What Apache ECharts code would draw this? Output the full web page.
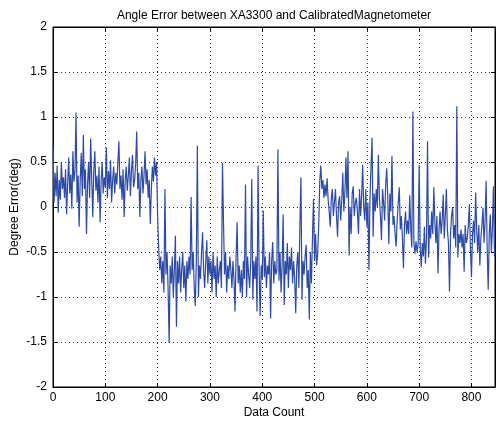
<!DOCTYPE html>
<html>
<head>
<meta charset="utf-8">
<script src="https://cdn.jsdelivr.net/npm/echarts@6/dist/echarts.min.js"></script>
<style>
  html, body { margin: 0; padding: 0; background: #fff; }
  #chart { width: 496px; height: 421px; }
</style>
</head>
<body>
<div id="chart"></div>
<script>
const countStep = 2;
const angleError = [
  0.69, 0.05, 0.38, 0.12, 0.46, -0.06, 0.3, 0.08, 0.5, 0.2,
  0.33, 0.1, 0.42, -0.08, 0.25, 0.55, 0.15, 0.36, -0.02, 0.62,
  0.28, 0.4, 1.05, 0.05, 0.35, -0.22, 0.3, 0.6, 0.12, 0.8,
  0.2, 0.42, -0.3, 0.25, 0.5, 0.1, 0.76, 0.32, -0.11, 0.4,
  0.62, 0.18, 0.35, 0.05, 0.45, -0.17, 0.28, 0.5, 0.15, 0.33,
  0.22, 0.66, 0.1, 0.4, 0.2, 0.52, 0.05, 0.3, 0.45, 0.15,
  0.38, 0.25, 0.5, 0.73, 0.2, 0.35, 0.08, 0.42, -0.11, 0.3,
  0.45, 0.18, 0.35, 0.55, 0.12, 0.4, 0.58, 0.22, 0.3, 0.48,
  0.84, 0.2, 0.38, -0.11, 0.3, 0.45, 0.15, 0.35, 0.62, 0.25,
  0.42, 0.1, 0.3, -0.19, 0.2, 0.45, 0.28, 0.55, 0.35, 0.5,
  -0.1, -0.45, -0.7, -0.55, -0.85, -0.6, -0.95, 0.2, -0.75, -0.5,
  -0.9, -1.51, -0.65, -0.85, -0.55, -1.0, -0.7, -0.32, -1.33, -0.6,
  -0.85, -0.55, -0.95, -0.7, -0.5, -0.9, -0.65, -1.05, -0.6, -0.8,
  -0.55, -0.75, 0.11, -0.7, -0.5, -0.9, -1.1, -0.6, 0.68, -1.0,
  -0.65, -0.8, -0.5, -0.28, -0.72, -0.9, -0.6, -0.37, -0.85, -0.55,
  -0.75, -0.6, -0.95, -0.5, -0.8, -0.65, -1.0, -0.55, -0.85, -0.7,
  -0.6, -0.9, 0.49, -0.19, -0.75, -0.5, -0.95, -0.65, -0.8, -0.55,
  -0.7, -0.9, -0.6, -0.8, -1.16, -0.55, -0.17, -0.85, -0.65, -0.95,
  -0.7, -1.0, -0.6, -0.8, 0.25, -1.0, -0.55, -0.75, -0.9, -0.6,
  0.31, -1.03, -0.6, -0.8, -0.55, -1.16, 0.46, -0.7, -1.21, -0.65,
  -0.8, -0.04, -0.78, -0.55, -0.9, -0.65, -0.75, -0.5, -1.24, -0.6,
  -0.39, -0.85, -0.6, -0.75, -0.7, 0.64, -0.82, -0.5, -0.95, -0.65,
  -0.08, -1.09, -0.6, -0.75, -0.4, -0.9, -0.55, -0.7, -0.45, -0.85,
  -0.6, -0.8, -1.18, -0.65, -0.5, -0.9, -0.2, 0.33, -1.03, -0.6,
  -0.75, -0.55, -0.42, -0.9, -0.7, -1.25, -0.5, -0.85, -0.35, 0.09,
  -0.6, -0.3, -0.65, -0.52, -0.2, 0.29, 0.46, 0.2, 0.3, 0.1,
  0.25, 0.12, 0.32, 0.08, -0.05, -0.22, 0.1, 0.2, -0.1, 0.05,
  0.2, -0.1, -0.33, 0.05, 0.12, -0.15, 0.08, 0.38, -0.05, 0.15,
  0.55, 0.1, 0.62, -0.54, 0.0, -0.3, 0.15, 0.23, -0.1, 0.05,
  0.1, -0.05, -0.3, 0.2, -0.1, 0.12, 0.47, 0.0, -0.15, 0.2,
  -0.22, 0.05, -0.7, 0.1, 0.46, 0.77, -0.33, 0.15, -0.05, 0.2,
  0.0, 0.58, 0.1, -0.1, -0.37, 0.2, 0.05, -0.15, 0.25, 0.43,
  0.1, -0.41, 0.15, -0.05, 0.57, -0.2, -0.1, -0.3, -0.44, -0.15,
  0.05, 0.22, -0.25, -0.1, -0.35, -0.68, -0.2, -0.05, -0.3, -0.15,
  -0.3, 0.13, -0.25, -0.45, 1.06, -0.4, -0.52, -0.38, -0.5, -0.42,
  0.47, -0.45, -0.67, -0.4, -0.55, -0.22, -0.63, -0.35, 0.73, -0.56,
  -0.2, -0.35, -0.05, -0.3, 0.22, -0.15, -0.4, -0.1, -0.74, -0.25,
  -0.05, -0.3, -0.15, 0.14, -0.35, -0.1, 0.2, -0.25, -0.4, -0.94,
  -0.3, -0.1, 0.0, -0.35, -0.2, -0.45, 1.12, -0.56, -0.3, -0.4,
  -0.25, -0.45, -0.3, -0.72, -0.2, -0.4, -0.35, -0.2, 0.03, -0.45,
  -0.78, -0.3, -0.15, -0.4, 0.16, -0.25, -0.5, -0.2, -0.65, -0.35,
  -0.2, -0.01, -0.4, -0.15, 0.29, -0.45, -0.92, -0.3, -0.08, -0.5,
  -0.25, 0.23, -0.55
];
const xTicks = [0, 100, 200, 300, 400, 500, 600, 700, 800];
const yTicks = [-2, -1.5, -1, -0.5, 0, 0.5, 1, 1.5, 2];

const chart = echarts.init(document.getElementById('chart'));

const font = 'Liberation Sans, Arial, sans-serif';
const seriesData = angleError.map((v, i) => [i * countStep, v]);

const gridLine = { show: true, lineStyle: { color: '#333', type: [1, 3], width: 1 } };
const boxTick = { show: true, inside: true, length: 4, lineStyle: { color: '#000' } };

const option = {
  animation: false,
  backgroundColor: '#fff',
  title: {
    text: 'Angle Error between XA3300 and CalibratedMagnetometer',
    left: 269,
    top: 5,
    textAlign: 'center',
    textStyle: { fontFamily: font, fontSize: 12, fontWeight: 'normal', color: '#000' }
  },
  grid: {
    left: 53, top: 27, right: 1, bottom: 34,
    show: true, borderColor: '#000', borderWidth: 1,
    containLabel: false, outerBoundsMode: 'none'
  },
  xAxis: [{
    type: 'value',
    min: 0,
    max: 845,
    interval: 100,
    name: 'Data Count',
    nameLocation: 'middle',
    nameGap: 20,
    nameMoveOverlap: false,
    nameTextStyle: { fontFamily: font, fontSize: 12, color: '#000' },
    axisLine: { show: true, onZero: false, lineStyle: { color: '#000' } },
    axisTick: boxTick,
    axisLabel: {
      fontFamily: font, fontSize: 12, color: '#000', margin: 5,
      formatter: v => xTicks.includes(v) ? String(v) : ''
    },
    splitLine: gridLine
  }, {
    type: 'value', position: 'top', min: 0, max: 845, interval: 100,
    axisLine: { show: true, onZero: false, lineStyle: { color: '#000' } },
    axisTick: boxTick,
    axisLabel: { show: false },
    splitLine: { show: false }
  }],
  yAxis: [{
    type: 'value',
    min: -2,
    max: 2,
    interval: 0.5,
    name: 'Degree Error(deg)',
    nameLocation: 'middle',
    nameGap: 32,
    nameMoveOverlap: false,
    nameRotate: 90,
    nameTextStyle: { fontFamily: font, fontSize: 12, color: '#000' },
    axisLine: { show: true, onZero: false, lineStyle: { color: '#000' } },
    axisTick: boxTick,
    axisLabel: {
      fontFamily: font, fontSize: 12, color: '#000', margin: 6,
      formatter: v => yTicks.includes(v) ? String(v) : ''
    },
    splitLine: gridLine
  }, {
    type: 'value', position: 'right', min: -2, max: 2, interval: 0.5,
    axisLine: { show: true, onZero: false, lineStyle: { color: '#000' } },
    axisTick: boxTick,
    axisLabel: { show: false },
    splitLine: { show: false }
  }],
  series: [{
    type: 'line',
    data: seriesData,
    symbol: 'none',
    lineStyle: { color: '#2d4ba6', width: 1.2 },
    z: 3
  }]
};

chart.setOption(option);
</script>
</body>
</html>
